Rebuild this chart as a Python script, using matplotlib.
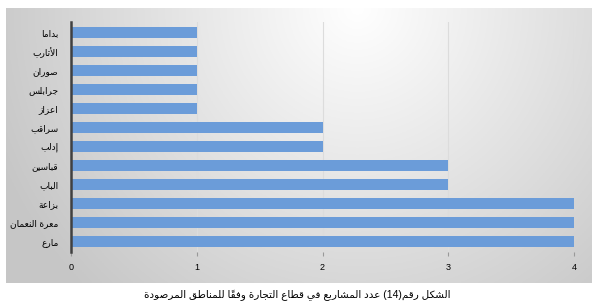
import numpy as np
import matplotlib
matplotlib.use("Agg")
import matplotlib.pyplot as plt

# data (top to bottom as shown)
regions = ["بداما", "الأتارب", "صوران", "جرابلس", "اعزاز", "سراقب",
           "إدلب", "قباسين", "الباب", "بزاعة", "معرة النعمان", "مارع"]
projects = [1, 1, 1, 1, 1, 2, 2, 3, 3, 4, 4, 4]
x_ticks = [0, 1, 2, 3, 4]
caption = "الشكل رقم(14) عدد المشاريع في قطاع التجارة وفقاً للمناطق المرصودة"

# minimal arabic shaping (matplotlib has no RTL / joining support)
DUAL = {
    'ب': 0xFE8F, 'ت': 0xFE95, 'ث': 0xFE99, 'ج': 0xFE9D, 'ح': 0xFEA1, 'خ': 0xFEA5,
    'س': 0xFEB1, 'ش': 0xFEB5, 'ص': 0xFEB9, 'ض': 0xFEBD, 'ط': 0xFEC1, 'ظ': 0xFEC5,
    'ع': 0xFEC9, 'غ': 0xFECD, 'ف': 0xFED1, 'ق': 0xFED5, 'ك': 0xFED9, 'ل': 0xFEDD,
    'م': 0xFEE1, 'ن': 0xFEE5, 'ه': 0xFEE9, 'ي': 0xFEF1, 'ئ': 0xFE89,
}
RIGHT = {
    'ا': 0xFE8D, 'أ': 0xFE83, 'إ': 0xFE87, 'آ': 0xFE81, 'د': 0xFEA9, 'ذ': 0xFEAB,
    'ر': 0xFEAD, 'ز': 0xFEAF, 'و': 0xFEED, 'ؤ': 0xFE85, 'ة': 0xFE93, 'ى': 0xFEEF,
}
LAM_ALEF = {'آ': 0xFEF5, 'أ': 0xFEF7, 'إ': 0xFEF9, 'ا': 0xFEFB}
MARKS = set(chr(c) for c in range(0x064B, 0x0653))


def shape(s):
    # merge lam-alef first
    chars = []
    i = 0
    while i < len(s):
        if s[i] == 'ل' and i + 1 < len(s) and s[i + 1] in LAM_ALEF:
            chars.append(('LA', s[i + 1]))
            i += 2
        else:
            chars.append(('C', s[i]))
            i += 1
    letters = [k for k in range(len(chars)) if chars[k][1] not in MARKS]

    def joins_fwd(k):
        t, c = chars[k]
        return t == 'C' and c in DUAL

    def is_ar(k):
        t, c = chars[k]
        return t == 'LA' or c in DUAL or c in RIGHT

    def only_marks(a, b):
        return all(chars[m][1] in MARKS for m in range(a + 1, b))

    out = []
    for n, k in enumerate(letters):
        t, c = chars[k]
        prev_j = n > 0 and only_marks(letters[n - 1], k) and joins_fwd(letters[n - 1]) and is_ar(k)
        next_j = n + 1 < len(letters) and joins_fwd(k) and is_ar(letters[n + 1]) and \
            only_marks(k, letters[n + 1])
        if t == 'LA':
            g = chr(LAM_ALEF[c] + (1 if prev_j else 0))
        elif c in DUAL:
            g = chr(DUAL[c] + (3 if prev_j and next_j else 2 if next_j else 1 if prev_j else 0))
        elif c in RIGHT:
            g = chr(RIGHT[c] + (1 if prev_j else 0))
        else:
            g = c
        out.append(g)
        m = k + 1
        while m < len(chars) and chars[m][1] in MARKS:
            out.append(chars[m][1])
            m += 1
    # visual order: reverse, keep digit runs ltr, mirror parens, marks after base
    vis = out[::-1]
    res = []
    i = 0
    while i < len(vis):
        if vis[i].isdigit():
            j = i
            while j < len(vis) and vis[j].isdigit():
                j += 1
            res.extend(vis[i:j][::-1])
            i = j
        elif vis[i] in MARKS and i + 1 < len(vis):
            res.append(vis[i + 1])
            res.append(vis[i])
            i += 2
        else:
            res.append({'(': ')', ')': '('}.get(vis[i], vis[i]))
            i += 1
    return ''.join(res)


plt.rcParams['font.family'] = ['Liberation Sans', 'DejaVu Sans']

fig = plt.figure(figsize=(5.99, 3.08), dpi=100)

# gradient background panel
bg = fig.add_axes([6 / 599, 1 - 283 / 308, 586 / 599, 275 / 308])
xx, yy = np.meshgrid(np.linspace(0, 1, 300), np.linspace(0, 1, 150))
d = np.sqrt(((xx - 0.6) / 0.6) ** 2 + ((yy - 0.0) / 1.3) ** 2)
v = np.clip(1.0 - 0.2 * d, 0.78, 1)
bg.imshow(np.dstack([v, v, v]), aspect='auto', extent=[0, 1, 1, 0])
bg.set_xlim(0, 1)
bg.set_ylim(1, 0)
bg.axis('off')

ax = fig.add_axes([71 / 599, 1 - 252 / 308, 503 / 599, 230 / 308])
ax.patch.set_alpha(0)
ypos = np.arange(len(regions))
ax.barh(ypos, projects, height=0.55, color='#6B9CD9', zorder=3)
ax.set_ylim(len(regions) - 0.45, -0.55)
ax.set_xlim(0, 4)
ax.set_xticks(x_ticks)
ax.set_xticklabels([str(t) for t in x_ticks], fontsize=6.5)
ax.set_yticks(ypos)
ax.set_yticklabels([shape(r) for r in regions], fontsize=6.5)
ax.tick_params(axis='y', length=0, pad=9)
ax.tick_params(axis='x', length=3, color='#999999', pad=5)
ax.grid(axis='x', color='#dcdcdc', linewidth=0.8, zorder=0)
for s in ['top', 'right', 'bottom']:
    ax.spines[s].set_visible(False)
ax.spines['left'].set_color('#404040')
ax.spines['left'].set_linewidth(1.8)
ax.spines['left'].set_zorder(4)

fig.text(0.497, 1 - 295 / 308, shape(caption), ha='center', va='center', fontsize=7.5)

fig.savefig('out.png', dpi=100)
